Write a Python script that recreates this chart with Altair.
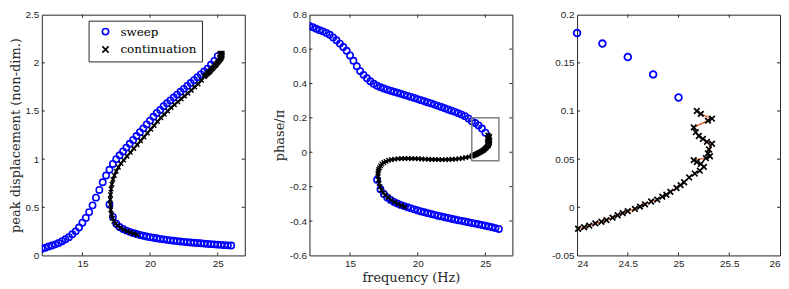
import altair as alt
import pandas as pd

# ---------------- data ----------------
up_freq = [12.0, 12.25, 12.5, 12.75, 13.0, 13.25, 13.5, 13.75, 14.0, 14.25, 14.5, 14.75,
           15.0, 15.25, 15.5, 15.75, 16.0, 16.25, 16.5, 16.75, 17.0, 17.25, 17.5, 17.75,
           18.0, 18.25, 18.5, 18.75, 19.0, 19.25, 19.5, 19.75, 20.0, 20.25, 20.5, 20.75,
           21.0, 21.25, 21.5, 21.75, 22.0, 22.25, 22.5, 22.75, 23.0, 23.25, 23.5, 23.75,
           24.0, 24.25, 24.5, 24.75, 25.0]
up_amp = [0.07, 0.08, 0.093, 0.103, 0.115, 0.13, 0.148, 0.168, 0.19, 0.22, 0.25, 0.29,
          0.34, 0.39, 0.45, 0.52, 0.6, 0.68, 0.76, 0.83, 0.89, 0.95, 1.0, 1.04,
          1.08, 1.12, 1.16, 1.2, 1.24, 1.28, 1.32, 1.36, 1.4, 1.44, 1.48, 1.51,
          1.55, 1.58, 1.61, 1.64, 1.67, 1.7, 1.73, 1.76, 1.79, 1.82, 1.85, 1.88,
          1.91, 1.94, 1.98, 2.02, 2.07]
up_phase = [0.735, 0.727, 0.718, 0.71, 0.703, 0.694, 0.683, 0.668, 0.651, 0.632, 0.612, 0.59,
            0.563, 0.532, 0.5, 0.472, 0.45, 0.43, 0.413, 0.398, 0.387, 0.378, 0.371, 0.364,
            0.358, 0.352, 0.346, 0.34, 0.334, 0.328, 0.322, 0.316, 0.309, 0.303, 0.297, 0.29,
            0.284, 0.277, 0.27, 0.263, 0.256, 0.249, 0.242, 0.235, 0.227, 0.219, 0.21, 0.197,
            0.181, 0.17, 0.156, 0.138, 0.114]

low_freq = [17.0, 17.25, 17.5, 17.75, 18.0, 18.25, 18.5, 18.75, 19.0, 19.25, 19.5, 19.75,
            20.0, 20.25, 20.5, 20.75, 21.0, 21.25, 21.5, 21.75, 22.0, 22.25, 22.5, 22.75,
            23.0, 23.25, 23.5, 23.75, 24.0, 24.25, 24.5, 24.75, 25.0, 25.25, 25.5, 25.75, 26.0]
low_amp = [0.53, 0.40, 0.33, 0.295, 0.275, 0.258, 0.245, 0.233, 0.222, 0.212, 0.204, 0.197,
           0.19, 0.184, 0.178, 0.172, 0.167, 0.162, 0.157, 0.153, 0.149, 0.145, 0.141, 0.138,
           0.135, 0.132, 0.129, 0.126, 0.123, 0.12, 0.117, 0.115, 0.112, 0.11, 0.107, 0.105, 0.103]
low_phase = [-0.16, -0.215, -0.243, -0.263, -0.277, -0.289, -0.298, -0.306, -0.313, -0.32, -0.326, -0.332,
             -0.338, -0.344, -0.349, -0.354, -0.359, -0.364, -0.369, -0.373, -0.378, -0.382, -0.387, -0.391,
             -0.395, -0.399, -0.403, -0.407, -0.411, -0.415, -0.419, -0.423, -0.427, -0.431, -0.436, -0.441, -0.446]

cont_freq = [19.06, 18.8, 18.55, 18.3, 18.05, 17.8, 17.6, 17.45, 17.32, 17.22, 17.15, 17.1,
             17.07, 17.06, 17.08, 17.12, 17.18, 17.26, 17.36, 17.5, 17.66, 17.85, 18.05, 18.3,
             18.55, 18.8, 19.05, 19.3, 19.55, 19.8, 20.05, 20.3, 20.55, 20.8, 21.05, 21.3,
             21.55, 21.8, 22.05, 22.3, 22.55, 22.8, 23.05, 23.3, 23.55, 23.8,
             24.01, 24.07, 24.12, 24.18, 24.24, 24.29, 24.35, 24.40, 24.45, 24.50,
             24.57, 24.62, 24.67, 24.73, 24.79, 24.84, 24.88, 24.92, 24.98, 25.02,
             25.055, 25.105, 25.16, 25.21, 25.25, 25.22, 25.18, 25.15, 25.27, 25.31,
             25.29, 25.30, 25.33, 25.28, 25.24, 25.20, 25.17, 25.15, 25.29, 25.33,
             25.22, 25.18]
cont_amp = [0.215, 0.225, 0.238, 0.252, 0.268, 0.288, 0.308, 0.33, 0.355, 0.385, 0.425, 0.475,
            0.53, 0.58, 0.63, 0.69, 0.74, 0.79, 0.83, 0.875, 0.915, 0.955, 0.99, 1.03,
            1.07, 1.11, 1.15, 1.19, 1.23, 1.27, 1.31, 1.35, 1.39, 1.43, 1.465, 1.50,
            1.535, 1.565, 1.595, 1.625, 1.655, 1.685, 1.715, 1.75, 1.78, 1.82,
            1.855, 1.865, 1.87, 1.88, 1.89, 1.895, 1.90, 1.91, 1.915, 1.925,
            1.935, 1.94, 1.95, 1.96, 1.97, 1.975, 1.98, 1.99, 2.0, 2.005,
            2.015, 2.02, 2.03, 2.04, 2.045, 2.05, 2.05, 2.055, 2.06, 2.065,
            2.07, 2.075, 2.08, 2.08, 2.085, 2.085, 2.09, 2.09, 2.095, 2.10,
            2.10, 2.10]
cont_phase = [-0.318, -0.31, -0.30, -0.29, -0.278, -0.262, -0.248, -0.235, -0.22, -0.2, -0.18, -0.16,
              -0.14, -0.125, -0.11, -0.10, -0.09, -0.078, -0.068, -0.06, -0.053, -0.047, -0.043, -0.04,
              -0.038, -0.037, -0.036, -0.036, -0.037, -0.037, -0.038, -0.039, -0.04, -0.041, -0.042, -0.042,
              -0.043, -0.043, -0.043, -0.042, -0.041, -0.04, -0.038, -0.035, -0.031, -0.027,
              -0.0223, -0.0207, -0.019, -0.0167, -0.015, -0.0133, -0.0107, -0.0083, -0.006, -0.004,
              -0.0017, 0.0007, 0.003, 0.006, 0.008, 0.011, 0.013, 0.016, 0.02, 0.023,
              0.026, 0.031, 0.035, 0.038, 0.042, 0.045, 0.047, 0.049, 0.051, 0.053,
              0.056, 0.06, 0.066, 0.068, 0.071, 0.074, 0.078, 0.083, 0.09, 0.092,
              0.097, 0.1]

series_names = ["sweep", "continuation"]
inset_box = {"x": [24.0], "x2": [26.0], "y": [-0.05], "y2": [0.2]}

# axis label values
p1_xticks = [15, 20, 25]
p1_yticks = [0, 0.5, 1, 1.5, 2, 2.5]
p2_xticks = [15, 20, 25]
p2_yticks = [-0.6, -0.4, -0.2, 0, 0.2, 0.4, 0.6, 0.8]
p3_xticks = [24, 24.5, 25, 25.5, 26]
p3_yticks = [-0.05, 0, 0.05, 0.1, 0.15, 0.2]

# ---------------- tables ----------------
sweep = pd.DataFrame({
    "f": up_freq + low_freq,
    "amp": up_amp + low_amp,
    "phase": up_phase + low_phase,
    "series": series_names[0],
})
cont = pd.DataFrame({
    "f": cont_freq, "amp": cont_amp, "phase": cont_phase,
    "order": list(range(len(cont_freq))),
    "series": series_names[1],
})

# ---------------- style ----------------
W, H = 204, 242
AX = "#262626"
BLUE = "#0000ff"
ORANGE = "#d95319"
XPATH = "M-1,-1L1,1M-1,1L1,-1"
LBL = "''+datum.value"


def ax(values, title):
    return alt.Axis(values=values, title=title, labelExpr=LBL, labelOverlap=False)


def tick_layers(xvals, yvals, xf, yf, xsc, ysc, xax, yax, L=3):
    # inward tick marks on all four sides (share field names / axes with the data layers)
    dx = pd.DataFrame({xf: xvals})
    dy = pd.DataFrame({yf: yvals})
    bx = alt.Chart(dx).mark_rule(color=AX, strokeWidth=1)
    by = alt.Chart(dy).mark_rule(color=AX, strokeWidth=1)
    X = alt.X(f"{xf}:Q", scale=xsc, axis=xax)
    Y = alt.Y(f"{yf}:Q", scale=ysc, axis=yax)
    return [
        bx.encode(x=X, y=alt.value(H), y2=alt.value(H - L)),
        bx.encode(x=X, y=alt.value(0), y2=alt.value(L)),
        by.encode(y=Y, x=alt.value(0), x2=alt.value(L)),
        by.encode(y=Y, x=alt.value(W), x2=alt.value(W - L)),
    ]


# ---------------- panel 1 ----------------
xs12 = alt.Scale(domain=[12, 27], nice=False, zero=False)
ys1 = alt.Scale(domain=[0, 2.5], nice=False, zero=False)
color_sc = alt.Scale(domain=series_names, range=[BLUE, "#000000"])
shape_sc = alt.Scale(domain=series_names, range=["circle", XPATH])
leg = alt.Legend(title=None, orient="none", legendX=47, legendY=6,
                 fillColor="white", strokeColor=AX, padding=5,
                 labelFont="DejaVu Serif", labelFontSize=12, labelColor="#000000",
                 symbolSize=40, symbolStrokeWidth=1.6, symbolOffset=6,
                 labelOffset=9, rowPadding=4, cornerRadius=0)

ax1x = ax(p1_xticks, None)
ax1y = ax(p1_yticks, "peak displacement (non-dim.)")
p1_sweep = alt.Chart(sweep).mark_point(filled=False, size=40, strokeWidth=1.6, clip=True, opacity=1).encode(
    x=alt.X("f:Q", scale=xs12, axis=ax1x),
    y=alt.Y("amp:Q", scale=ys1, axis=ax1y),
    color=alt.Color("series:N", scale=color_sc, legend=leg),
    shape=alt.Shape("series:N", scale=shape_sc, legend=leg),
)
p1_line = alt.Chart(cont).mark_line(color="#000000", strokeWidth=2.2, clip=True).encode(
    x=alt.X("f:Q", scale=xs12, axis=ax1x), y=alt.Y("amp:Q", scale=ys1, axis=ax1y), order="order:Q")
p1_cont = alt.Chart(cont).mark_point(filled=False, size=20, strokeWidth=1.4, clip=True, opacity=1).encode(
    x=alt.X("f:Q", scale=xs12, axis=ax1x),
    y=alt.Y("amp:Q", scale=ys1, axis=ax1y),
    color=alt.Color("series:N", scale=color_sc, legend=leg),
    shape=alt.Shape("series:N", scale=shape_sc, legend=leg),
)
panel1 = alt.layer(p1_sweep, p1_line, p1_cont,
                   *tick_layers([15, 20, 25], [0.5, 1, 1.5, 2], "f", "amp", xs12, ys1, ax1x, ax1y)
                   ).properties(width=W, height=H)

# ---------------- panel 2 ----------------
ys2 = alt.Scale(domain=[-0.6, 0.8], nice=False, zero=False)
ax2x = ax(p2_xticks, "frequency (Hz)")
ax2y = ax(p2_yticks, "phase/π")
p2_sweep = alt.Chart(sweep).mark_point(filled=False, size=40, strokeWidth=1.6, clip=True, color=BLUE, opacity=1).encode(
    x=alt.X("f:Q", scale=xs12, axis=ax2x),
    y=alt.Y("phase:Q", scale=ys2, axis=ax2y),
)
p2_line = alt.Chart(cont).mark_line(color="#000000", strokeWidth=2.2, clip=True).encode(
    x=alt.X("f:Q", scale=xs12, axis=ax2x), y=alt.Y("phase:Q", scale=ys2, axis=ax2y), order="order:Q")
p2_cont = alt.Chart(cont).mark_point(filled=False, size=20, strokeWidth=1.4, clip=True, shape=XPATH,
                                     color="#000000", opacity=1).encode(
    x=alt.X("f:Q", scale=xs12, axis=ax2x), y=alt.Y("phase:Q", scale=ys2, axis=ax2y))
box_df = pd.DataFrame({"f": inset_box["x"], "f2": inset_box["x2"],
                       "phase": inset_box["y"], "phase2": inset_box["y2"]})
p2_box = alt.Chart(box_df).mark_rect(fillOpacity=0, stroke="#808080", strokeWidth=1.5).encode(
    x=alt.X("f:Q", scale=xs12, axis=ax2x), x2="f2:Q",
    y=alt.Y("phase:Q", scale=ys2, axis=ax2y), y2="phase2:Q")
panel2 = alt.layer(p2_sweep, p2_line, p2_cont, p2_box,
                   *tick_layers([15, 20, 25], [-0.4, -0.2, 0, 0.2, 0.4, 0.6], "f", "phase",
                                xs12, ys2, ax2x, ax2y)
                   ).properties(width=W, height=H)

# ---------------- panel 3 ----------------
xs3 = alt.Scale(domain=[24, 26], nice=False, zero=False)
ys3 = alt.Scale(domain=[-0.05, 0.2], nice=False, zero=False)
ax3x = ax(p3_xticks, None)
ax3y = ax(p3_yticks, None)
in_box = "datum.f >= 23.99 && datum.phase >= -0.05 && datum.phase <= 0.2"
p3_line = alt.Chart(cont).transform_filter(in_box).mark_line(color=ORANGE, strokeWidth=1.2).encode(
    x=alt.X("f:Q", scale=xs3, axis=ax3x), y=alt.Y("phase:Q", scale=ys3, axis=ax3y), order="order:Q")
p3_sweep = alt.Chart(sweep).transform_filter(in_box).mark_point(
    filled=False, size=45, strokeWidth=1.8, color=BLUE, opacity=1).encode(
    x=alt.X("f:Q", scale=xs3, axis=ax3x),
    y=alt.Y("phase:Q", scale=ys3, axis=ax3y),
)
p3_cont = alt.Chart(cont).transform_filter(in_box).mark_point(
    filled=False, size=32, strokeWidth=1.7, shape=XPATH, color="#000000", opacity=1).encode(
    x=alt.X("f:Q", scale=xs3, axis=ax3x), y=alt.Y("phase:Q", scale=ys3, axis=ax3y))
panel3 = alt.layer(p3_line, p3_sweep, p3_cont,
                   *tick_layers([24.5, 25, 25.5], [0, 0.05, 0.1, 0.15], "f", "phase", xs3, ys3, ax3x, ax3y)
                   ).properties(width=W, height=H)

chart = alt.hconcat(panel1, panel2, panel3, spacing=65, bounds="flush").properties(
    padding=0
).configure_view(
    stroke=AX, strokeWidth=1
).configure_axis(
    grid=False, ticks=False, domain=False, labelOverlap=False,
    labelFont="Liberation Sans", labelFontSize=10, labelColor=AX, labelPadding=3,
    titleFont="DejaVu Serif", titleFontSize=13, titleFontWeight="normal", titleColor=AX,
    titlePadding=3,
)

chart.save("out.html", embed_options={"renderer": "svg", "actions": False})
